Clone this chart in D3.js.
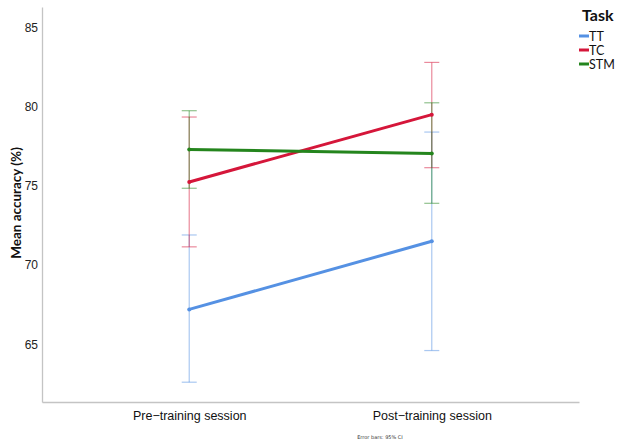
<!DOCTYPE html>
<html>
<head>
<meta charset="utf-8">
<script src="https://cdn.jsdelivr.net/npm/d3@7"></script>
<style>
  body { margin: 0; background: #fff; }
  svg { display: block; font-family: "DejaVu Sans", sans-serif; }
</style>
</head>
<body>
<svg id="chart" width="617" height="444"></svg>
<script>
// Sessions on the x axis
const sessions = ["Pre\u2212training session", "Post\u2212training session"];
// Task series (legend order)
const tasks = ["TT", "TC", "STM"];
const taskColors = ["#5591e3", "#d5163a", "#24851d"];
// Mean accuracy (%) per task, pre then post
const meanTT = [67.2, 71.5];
const meanTC = [75.25, 79.5];
const meanSTM = [77.3, 77.05];
// 95% CI bounds per task, pre then post
const lowTT = [62.6, 64.6];
const highTT = [71.9, 78.4];
const lowTC = [71.15, 76.15];
const highTC = [79.35, 82.8];
const lowSTM = [74.85, 73.9];
const highSTM = [79.75, 80.25];
const yTicks = [65, 70, 75, 80, 85];

const series = [
  { name: tasks[0], color: taskColors[0], mean: meanTT, low: lowTT, high: highTT },
  { name: tasks[1], color: taskColors[1], mean: meanTC, low: lowTC, high: highTC },
  { name: tasks[2], color: taskColors[2], mean: meanSTM, low: lowSTM, high: highSTM }
];

const svg = d3.select("#chart");
const plot = { left: 42, right: 579, top: 7, bottom: 402 };

const x = d3.scalePoint().domain(sessions).range([plot.left, plot.right]).padding(0.607);
const y = d3.scaleLinear().domain([61.35, 86.3]).range([plot.bottom, plot.top]);

// Axes
const yAxis = d3.axisLeft(y).tickValues(yTicks).tickSize(0).tickPadding(4);
const gy = svg.append("g").attr("transform", `translate(${plot.left},0)`).call(yAxis);
gy.select(".domain").attr("stroke", "#c4c4c4").attr("stroke-width", 1.3);
gy.selectAll("text").attr("font-size", 12).attr("fill", "#222");

const xAxis = d3.axisBottom(x).tickSize(0).tickPadding(9);
const gx = svg.append("g").attr("transform", `translate(0,${plot.bottom})`).call(xAxis);
gx.select(".domain").attr("stroke", "#c4c4c4").attr("stroke-width", 1.3);
gx.selectAll("text").attr("font-size", 12.5).attr("fill", "#111");

// Axis title
svg.append("text")
  .attr("transform", "translate(21,203) rotate(-90)")
  .attr("text-anchor", "middle")
  .attr("font-family", "Lato, sans-serif")
  .attr("font-size", 13.5)
  .attr("font-weight", "bold")
  .attr("fill", "#111")
  .text("Mean accuracy (%)");

// Error bars
const cap = 7.5;
series.forEach(s => {
  const g = svg.append("g").attr("stroke", s.color).attr("stroke-opacity", 0.5).attr("stroke-width", 1.2);
  sessions.forEach((sess, i) => {
    const cx = x(sess);
    g.append("line").attr("x1", cx).attr("x2", cx).attr("y1", y(s.low[i])).attr("y2", y(s.high[i]));
    g.append("line").attr("x1", cx - cap).attr("x2", cx + cap).attr("y1", y(s.low[i])).attr("y2", y(s.low[i]));
    g.append("line").attr("x1", cx - cap).attr("x2", cx + cap).attr("y1", y(s.high[i])).attr("y2", y(s.high[i]));
  });
});

// Mean lines
const line = d3.line().x((d, i) => x(sessions[i])).y(d => y(d));
series.forEach(s => {
  svg.append("path").datum(s.mean).attr("d", line)
    .attr("fill", "none").attr("stroke", s.color).attr("stroke-width", 3);
  svg.selectAll(null).data(s.mean).enter().append("circle")
    .attr("cx", (d, i) => x(sessions[i])).attr("cy", d => y(d)).attr("r", 2)
    .attr("fill", s.color);
});

// Legend
const legend = svg.append("g").attr("font-family", "Lato, sans-serif");
legend.append("text").attr("x", 582).attr("y", 21)
  .attr("font-size", 16).attr("font-weight", "bold").attr("fill", "#111").text("Task");
series.forEach((s, i) => {
  const ly = 36 + i * 14;
  legend.append("line").attr("x1", 579).attr("x2", 589).attr("y1", ly).attr("y2", ly)
    .attr("stroke", s.color).attr("stroke-width", 3);
  legend.append("text").attr("x", 589).attr("y", ly + 4.5)
    .attr("font-size", 12.5).attr("fill", "#111").text(s.name);
});

// Footnote
svg.append("text").attr("x", 380).attr("y", 439).attr("text-anchor", "middle")
  .attr("font-size", 5).attr("fill", "#333").text("Error bars: 95% CI");
</script>
</body>
</html>
